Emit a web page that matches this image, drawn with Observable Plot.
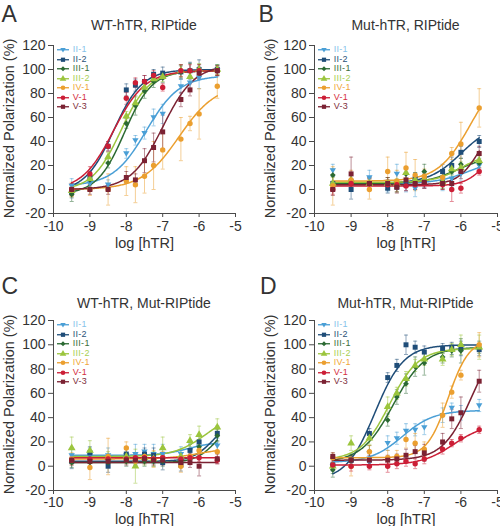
<!DOCTYPE html>
<html><head><meta charset="utf-8">
<script src="https://cdn.jsdelivr.net/npm/d3@7"></script>
<script src="https://cdn.jsdelivr.net/npm/@observablehq/plot@0.6"></script>
<style>
html,body{margin:0;padding:0;background:#fff;}
#root{position:relative;width:500px;height:526px;overflow:hidden;font-family:"Liberation Sans",Arial,sans-serif;color:#333;}
.panel{position:absolute;width:250px;height:263px;}
.panel svg.plot{position:absolute;left:0;top:0;}
.letter{position:absolute;font-size:23px;line-height:23px;color:#333;}
.title{position:absolute;font-size:14px;line-height:14px;white-space:nowrap;transform:translateX(-50%);color:#333;}
.legend{position:absolute;font-size:9px;letter-spacing:0.3px;}
.legend .row{display:flex;align-items:center;height:9.5px;line-height:9.5px;}
.legend .row svg{display:block;margin-right:4px;}
</style></head><body><div id="root"></div><script>
// ---------- data ----------
const xs = [-9.5, -9, -8.5, -8, -7.75, -7.5, -7.25, -7, -6.5, -6.25, -6, -5.5];
const seriesNames = ["II-1", "II-2", "III-1", "III-2", "IV-1", "V-1", "V-3"];
const seriesColors = ["#4a9fd6", "#1f4d78", "#2c6a33", "#9bc53d", "#eb9f2f", "#cc1e36", "#7b2233"];
const legendColors = ["#86c3ea", "#2b5278", "#3a6e3a", "#a9cf52", "#f0a63a", "#d42e3e", "#80303c"];
const seriesSymbols = ["triangleDown", "square", "diamond2", "triangle", "circle", "circle", "square"];
const xTicks = [-10, -9, -8, -7, -6, -5];
const yTicks = [-20, 0, 20, 40, 60, 80, 100, 120];
const panelLetters = ["A", "B", "C", "D"];
const panelTitles = ["WT-hTR, RIPtide", "Mut-hTR, RIPtide", "WT-hTR, Mut-RIPtide", "Mut-hTR, Mut-RIPtide"];
const xLabel = "log [hTR]";
const yLabel = "Normalized Polarization (%)";

// Panel A: WT-hTR, RIPtide (rows follow seriesNames)
const valuesA = [
  [3, 5, 4, 30, 41, 47, 60, 63, 86, 89, 93, 99],
  [-2, 10, 36, 83, 87, 90, 96, 97, 98, 99, 100, 100],
  [-4, 8, 22, 55, 70, 82, 90, 93, 98, 99, 99, 99],
  [-1, 9, 27, 61, 72, 85, 92, 94, 99, 94, 100, 100],
  [0, 0, 0, 7, 4, 11, 20, 33, 42, 55, 63, 86],
  [0, 13, 36, 76, 89, 90, 95, 85, 99, 99, 99, 99],
  [0, 0, 0, 10, 8, 24, 35, 48, 75, 83, 97, 99]
];
const errorsA = [
  [6, 4, 4, 4, 4, 5, 7, 8, 6, 6, 9, 5],
  [5, 5, 4, 5, 5, 5, 4, 5, 6, 7, 8, 4],
  [6, 5, 4, 4, 8, 6, 5, 4, 5, 6, 5, 4],
  [5, 5, 4, 4, 5, 5, 4, 4, 5, 4, 5, 4],
  [6, 5, 13, 12, 15, 14, 20, 16, 18, 6, 21, 10],
  [5, 6, 4, 5, 4, 5, 4, 3, 5, 5, 5, 4],
  [5, 4, 4, 5, 5, 10, 12, 14, 6, 5, 5, 4]
];
// fit parameters: [bottom, top, logEC50, hill]
const fitsA = [
  [3, 95, -7.45, 0.95],
  [-2, 100, -8.35, 1.1],
  [-4, 99, -8.05, 1.15],
  [-1, 99, -8.15, 1.1],
  [0, 88, -6.55, 0.85],
  [-1, 99, -8.35, 1.0],
  [0, 104, -7.0, 1.0]
];

// Panel B: Mut-hTR, RIPtide
const valuesB = [
  [16, 6, 10, 3, 13, 5, 1, 7, 5, 9, 13, 20],
  [5, 0, 5, 1, 2, 4, 9, 8, 15, 20, 31, 40],
  [12, 8, 5, 5, 3, 13, 8, 15, 7, 15, 21, 22],
  [5, 8, 5, 5, 5, 14, 8, 9, 6, 17, 18, 24],
  [3, 8, 0, 15, 7, 18, 12, 11, 10, 30, 38, 68],
  [0, 5, 5, 4, 4, 3, 4, 5, 4, 0, 1, 15],
  [0, 13, 5, 5, 2, 8, 5, 6, 5, 5, 15, 30]
];
const errorsB = [
  [5, 6, 6, 5, 8, 7, 7, 6, 6, 7, 6, 4],
  [6, 8, 5, 4, 4, 5, 5, 6, 6, 7, 5, 5],
  [5, 5, 4, 5, 5, 6, 6, 6, 6, 6, 5, 4],
  [5, 5, 4, 5, 4, 5, 5, 5, 5, 5, 5, 4],
  [16, 8, 8, 12, 9, 13, 13, 6, 6, 5, 18, 16],
  [4, 4, 4, 4, 4, 4, 4, 4, 4, 10, 4, 3],
  [5, 14, 5, 5, 5, 5, 5, 5, 5, 5, 6, 6]
];
const fitsB = [
  [5, 25, -5.8, 1.0],
  [5, 55, -6.0, 1.0],
  [5, 28, -6.1, 1.0],
  [6, 30, -6.0, 1.2],
  [7, 100, -5.75, 1.0],
  [3, 40, -5.3, 1.5],
  [4, 60, -5.5, 1.5]
];

// Panel C: WT-hTR, Mut-RIPtide
const valuesC = [
  [9, 9, 9, 9, 10, 12, 10, 10, 10, 13, 16, 17],
  [4, 11, 0, 10, 5, 10, 9, 3, 1, 13, 20, 27],
  [3, 3, 3, 4, 5, 4, 4, 4, 3, 6, 16, 25],
  [15, 13, 7, 8, 0, 7, 6, 15, 8, 21, 26, 32],
  [6, -1, 8, 15, 4, 8, 6, 7, 0, 8, 13, 12],
  [5, 6, 6, 6, 7, 7, 6, 7, 6, 7, 7, 5],
  [5, 4, 4, 5, 5, 6, 5, 5, 3, 3, 0, 6]
];
const errorsC = [
  [6, 6, 6, 6, 8, 6, 8, 8, 6, 6, 6, 6],
  [6, 5, 5, 5, 6, 5, 6, 6, 5, 5, 6, 6],
  [4, 4, 4, 4, 5, 4, 4, 4, 4, 4, 5, 5],
  [9, 8, 5, 6, 14, 6, 6, 9, 6, 5, 7, 7],
  [5, 10, 15, 5, 5, 5, 7, 5, 5, 5, 5, 5],
  [3, 3, 3, 3, 3, 3, 3, 3, 3, 3, 3, 3],
  [4, 4, 4, 4, 4, 4, 4, 4, 4, 4, 8, 4]
];
const fitsC = [
  [9, 20, -6.3, 1.2],
  [4, 40, -5.6, 1.5],
  [3, 40, -5.5, 1.5],
  [8, 45, -5.8, 1.0],
  [6, 15, -6.0, 1.0],
  [7, 7, -6.0, 1.0],
  [3, 3, -6.0, 1.0]
];

// Panel D: Mut-hTR, Mut-RIPtide
const valuesD = [
  [0, 3, 3, 19, 23, 29, 30, 32, 42, 48, 44, 50],
  [1, 5, 27, 73, 83, 100, 98, 94, 97, 97, 97, 96],
  [-3, 5, 12, 38, 57, 68, 82, 85, 90, 95, 95, 98],
  [0, 19, 23, 49, 60, 72, 83, 88, 88, 96, 100, 98],
  [7, 0, 12, 7, 8, 22, 19, 14, 42, 61, 75, 100],
  [1, 0, 0, 0, 2, 4, 2, 6, 14, 19, 23, 30],
  [8, 5, 5, 5, 6, 9, 12, 11, 20, 39, 44, 70]
];
const errorsD = [
  [6, 4, 4, 6, 5, 6, 5, 6, 6, 4, 6, 5],
  [5, 5, 4, 4, 5, 8, 5, 5, 4, 5, 6, 5],
  [6, 4, 5, 5, 6, 8, 8, 10, 5, 5, 10, 5],
  [6, 6, 5, 8, 5, 6, 5, 5, 5, 5, 8, 10],
  [4, 8, 5, 6, 5, 7, 8, 6, 10, 5, 4, 10],
  [3, 4, 3, 5, 4, 4, 4, 4, 4, 3, 3, 3],
  [3, 4, 4, 4, 4, 5, 5, 7, 7, 8, 13, 9]
];
const fitsD = [
  [3, 46, -7.6, 1.0],
  [-12, 100, -8.35, 1.1],
  [3, 98, -7.85, 1.0],
  [5, 97, -7.95, 1.1],
  [7, 105, -6.35, 1.5],
  [1, 35, -6.2, 1.0],
  [5, 110, -5.7, 1.1]
];

// ---------- layout (not data) ----------
const layout = [
  {left: 0,   top: 0,   mL: 53, mR: 15, mT: 45, mB: 50, letter: [1.5, 3.2],  titleTop: 17.6, xLabDy: 24, tickPad: 4},
  {left: 250, top: 0,   mL: 64, mR: 3,  mT: 45, mB: 50, letter: [8.5, 3.2],  titleTop: 17.6, xLabDy: 24, tickPad: 4},
  {left: 0,   top: 263, mL: 53, mR: 15, mT: 57, mB: 36, letter: [1.5, 12.2], titleTop: 32.6, xLabDy: 23, tickPad: 3},
  {left: 250, top: 263, mL: 64, mR: 3,  mT: 57, mB: 36, letter: [10, 12.2], titleTop: 32.6, xLabDy: 23, tickPad: 3}
];
const panelData = [
  [valuesA, errorsA, fitsA],
  [valuesB, errorsB, fitsB],
  [valuesC, errorsC, fitsC],
  [valuesD, errorsD, fitsD]
];

const triangleDown = {draw(ctx, size) {
  const s = Math.sqrt(size);
  ctx.moveTo(-0.62 * s, -0.42 * s); ctx.lineTo(0.62 * s, -0.42 * s); ctx.lineTo(0, 0.62 * s); ctx.closePath();
}};
const capSymbol = {draw(ctx, size) { ctx.moveTo(-2, 0); ctx.lineTo(2, 0); }};
function sym(name) { return name === "triangleDown" ? triangleDown : name; }
const symbolR = {"triangleDown": 2.9, "square": 2.8, "diamond2": 2.6, "triangle": 2.9, "circle": 2.7};

function logistic(p, x) {
  const [b, t, ec, h] = p;
  return b + (t - b) / (1 + Math.pow(10, (ec - x) * h));
}
const curveX = d3.range(-9.5, -5.5 + 1e-9, 0.025);

const root = document.getElementById("root");

layout.forEach((L, pi) => {
  const [values, errors, fits] = panelData[pi];
  const div = document.createElement("div");
  div.className = "panel";
  div.style.left = L.left + "px";
  div.style.top = L.top + "px";

  const marks = [
    Plot.frame({anchor: "left", stroke: "#4a4a4a"}),
    Plot.frame({anchor: "bottom", stroke: "#4a4a4a"}),
    Plot.axisX({ticks: xTicks, tickSize: 4, tickPadding: L.tickPad, fontSize: 14, label: null, tickFormat: d => String(d), stroke: "#4a4a4a"}),
    Plot.axisY({ticks: yTicks, tickSize: 5, tickPadding: 3, fontSize: 14, label: null, tickFormat: d => String(d), stroke: "#4a4a4a"}),
    Plot.text([yLabel], {text: d => d, frameAnchor: "left", textAnchor: "middle", lineAnchor: "middle", rotate: -90, dx: -44, dy: -1, fontSize: 14.5, fill: "#333"}),
    Plot.text([xLabel], {text: d => d, frameAnchor: "bottom", textAnchor: "middle", dy: L.xLabDy, lineAnchor: "top", fontSize: 14.5, fill: "#333"})
  ];
  const rowsBySeries = seriesNames.map((s, i) => xs.map((x, j) => ({x, y: values[i][j], e: errors[i][j]})));
  // error bars
  seriesNames.forEach((s, i) => {
    const c = seriesColors[i], rows = rowsBySeries[i];
    marks.push(Plot.ruleX(rows, {x: "x", y1: d => d.y - d.e, y2: d => d.y + d.e, stroke: c, strokeOpacity: 0.5, strokeWidth: 1}));
    marks.push(Plot.dot(rows, {x: "x", y: d => d.y + d.e, symbol: capSymbol, r: 2, stroke: c, strokeOpacity: 0.5, fill: "none", strokeWidth: 1}));
    marks.push(Plot.dot(rows, {x: "x", y: d => d.y - d.e, symbol: capSymbol, r: 2, stroke: c, strokeOpacity: 0.5, fill: "none", strokeWidth: 1}));
  });
  // fitted curves
  seriesNames.forEach((s, i) => {
    const pts = curveX.map(x => ({x, y: logistic(fits[i], x)}));
    marks.push(Plot.line(pts, {x: "x", y: "y", stroke: seriesColors[i], strokeWidth: 1.5}));
  });
  // points
  seriesNames.forEach((s, i) => {
    marks.push(Plot.dot(rowsBySeries[i], {x: "x", y: "y", symbol: sym(seriesSymbols[i]), r: symbolR[seriesSymbols[i]], fill: seriesColors[i], stroke: "none"}));
  });

  const svg = Plot.plot({
    width: 250, height: 263,
    marginLeft: L.mL, marginRight: L.mR, marginTop: L.mT, marginBottom: L.mB,
    x: {domain: [-10, -5]},
    y: {domain: [-20, 120]},
    style: {fontFamily: '"Liberation Sans", Arial, sans-serif', fontSize: "14px", color: "#333", background: "transparent", overflow: "visible"},
    marks
  });
  svg.classList.add("plot");
  div.appendChild(svg);

  const letter = document.createElement("div");
  letter.className = "letter";
  letter.textContent = panelLetters[pi];
  letter.style.left = L.letter[0] + "px";
  letter.style.top = L.letter[1] + "px";
  div.appendChild(letter);

  const title = document.createElement("div");
  title.className = "title";
  title.textContent = panelTitles[pi];
  title.style.left = (L.mL + (250 - L.mL - L.mR) / 2) + "px";
  title.style.top = L.titleTop + "px";
  div.appendChild(title);

  const legend = document.createElement("div");
  legend.className = "legend";
  legend.style.left = (L.mL + 3.7) + "px";
  legend.style.top = (L.mT) + "px";
  seriesNames.forEach((s, i) => {
    const row = document.createElement("div");
    row.className = "row";
    const sv = d3.create("svg").attr("width", 12).attr("height", 9.5);
    sv.append("line").attr("x1", 0).attr("x2", 12).attr("y1", 4.75).attr("y2", 4.75)
      .attr("stroke", seriesColors[i]).attr("stroke-width", 1.3);
    const sn = seriesSymbols[i];
    const symMap = {square: d3.symbolSquare, diamond2: d3.symbolDiamond2, triangle: d3.symbolTriangle, circle: d3.symbolCircle, triangleDown: triangleDown};
    const r = symbolR[sn] * 0.85;
    sv.append("path").attr("transform", "translate(6,4.75)")
      .attr("d", d3.symbol(symMap[sn], r * r * Math.PI)())
      .attr("fill", seriesColors[i]);
    row.appendChild(sv.node());
    const t = document.createElement("span");
    t.textContent = s;
    t.style.color = legendColors[i];
    row.appendChild(t);
    legend.appendChild(row);
  });
  div.appendChild(legend);

  root.appendChild(div);
});
</script></body></html>
